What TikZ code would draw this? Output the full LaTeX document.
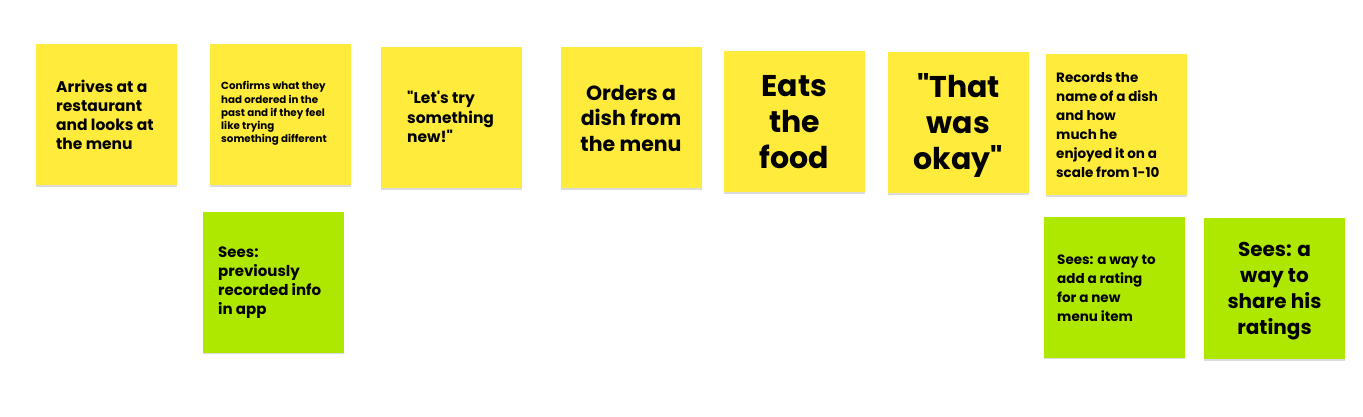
\documentclass[tikz,border=0pt]{standalone}
\usepackage{fontspec}
\setmainfont{Poppins}[Ligatures=TeXOff]
\definecolor{stickyY}{HTML}{FFEB3B}
\definecolor{stickyG}{HTML}{AEE800}
\begin{document}
\begin{tikzpicture}[x=1pt,y=-1pt,
  note/.style={draw=none, minimum width=141pt, minimum height=141pt, inner sep=0pt,
    preaction={fill=black!14, transform canvas={yshift=-1.6pt}}},
  ynote/.style={note, fill=stickyY},
  gnote/.style={note, fill=stickyG},
  txt/.style={inner sep=0pt, font=\bfseries, text=black},
  ltxt/.style={txt, anchor=west, align=left},
  ctxt/.style={txt, anchor=center, align=center}]
\useasboundingbox (0,0) rectangle (1363,417);
% yellow notes
\node[ynote] (n1) at (106.5,114.5) {};
\node[ynote] (n2) at (280.5,114.5) {};
\node[ynote] (n3) at (451.5,117.5) {};
\node[ynote] (n4) at (631,117.5) {};
\node[ynote] (n5) at (794.5,121.5) {};
\node[ynote] (n6) at (958.5,122.5) {};
\node[ynote] (n7) at (1116.5,124.5) {};
% green notes
\node[gnote] (g1) at (273.5,282) {};
\node[gnote] (g2) at (1114.5,287) {};
\node[gnote] (g3) at (1274.5,288.5) {};
% texts
\node[ltxt, font=\bfseries\fontsize{15.5}{19}\selectfont] (t1) at (56,114.5)
  {Arrives at a\\restaurant\\and looks at\\the menu};
\node[ltxt, font=\bfseries\fontsize{10.3}{13.2}\selectfont] (t2) at (221,113.5)
  {Confirms what they\\had ordered in the\\past and if they feel\\like trying\\something different};
\node[ltxt, font=\bfseries\fontsize{15.5}{19.5}\selectfont] (t3) at (407,117)
  {"Let's try\\something\\new!"};
\node[ctxt, font=\bfseries\fontsize{20.5}{25.5}\selectfont] (t4) at (631,118)
  {Orders a\\dish from\\the menu};
\node[ctxt, font=\bfseries\fontsize{30}{36}\selectfont] (t5) at (794.5,122.5)
  {Eats\\the\\food};
\node[ctxt, font=\bfseries\fontsize{30}{36}\selectfont] (t6) at (958.5,125)
  {"That\\was\\okay"};
\node[ltxt, font=\bfseries\fontsize{13.5}{19}\selectfont] (t7) at (1056,125)
  {Records the\\name of a dish\\and how\\much he\\enjoyed it on a\\scale from 1-10};
\node[ltxt, font=\bfseries\fontsize{15}{19}\selectfont] (s1) at (218,283)
  {Sees:\\previously\\recorded info\\in app};
\node[ltxt, font=\bfseries\fontsize{13.5}{19}\selectfont] (s2) at (1057,288)
  {Sees: a way to\\add a rating\\for a new\\menu item};
\node[ctxt, font=\bfseries\fontsize{20}{26}\selectfont] (s3) at (1274.5,291)
  {Sees: a\\way to\\share his\\ratings};
\end{tikzpicture}
\end{document}
